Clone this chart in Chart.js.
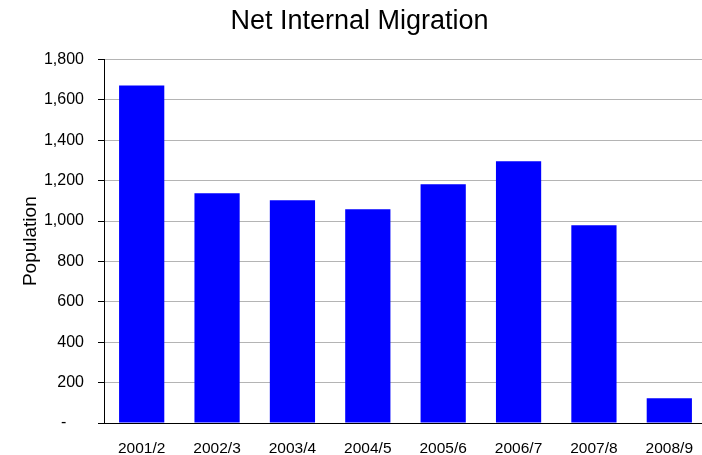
<!DOCTYPE html>
<html>
<head>
<meta charset="utf-8">
<script src="https://cdn.jsdelivr.net/npm/chart.js@4/dist/chart.umd.min.js"></script>
<style>
  html, body { margin: 0; padding: 0; background: #fff; overflow: hidden; }
  #wrap { width: 710px; height: 455px; }
</style>
</head>
<body>
<div id="wrap"><canvas id="myChart" width="710" height="455"></canvas></div>
<script>
// data
var years = ["2001/2", "2002/3", "2003/4", "2004/5", "2005/6", "2006/7", "2007/8", "2008/9"];
var migration = [1671, 1137, 1103, 1058, 1182, 1296, 979, 122];
var yTicks = [0, 200, 400, 600, 800, 1000, 1200, 1400, 1600, 1800];

var font = "'Liberation Sans', Arial, sans-serif";

var totalChart = new Chart("myChart", {
    type: "bar",
    data: {
        labels: years,
        datasets: [{
            data: migration,
            backgroundColor: "#0000FF",
            borderWidth: 0,
            barPercentage: 0.6,
            categoryPercentage: 1
        }]
    },
    options: {
        responsive: false,
        animation: false,
        // left padding just pushes the title centre to the right like in the picture
        layout: { padding: { left: 12, right: 3, top: 0, bottom: 0 } },
        plugins: {
            legend: { display: false },
            tooltip: { enabled: false },
            title: {
                display: true,
                text: "Net Internal Migration",
                color: "#000",
                font: { family: font, size: 27, weight: "normal" },
                padding: { top: 5, bottom: 22 }
            }
        },
        scales: {
            x: {
                afterFit: function (scale) { scale.height = 32; },
                grid: { display: false, drawTicks: false },
                border: { display: true, color: "#000", width: 1 },
                ticks: {
                    color: "#000",
                    font: { family: font, size: 15.5 },
                    padding: 16,
                    maxRotation: 0
                }
            },
            y: {
                min: 0,
                max: 1800,
                afterFit: function (scale) { scale.width = 92; },
                afterBuildTicks: function (scale) {
                    scale.ticks = yTicks.map(function (v) { return { value: v }; });
                },
                grid: {
                    color: "#b4b4b4",
                    tickColor: "#000",
                    tickLength: 6,
                    lineWidth: 1
                },
                border: { display: true, color: "#000", width: 1 },
                ticks: {
                    color: "#000",
                    font: { family: font, size: 16 },
                    padding: 14,
                    callback: function (v) {
                        if (v === 0) return "-    ";
                        return v.toLocaleString("en-US");
                    }
                },
                title: {
                    display: true,
                    text: "Population",
                    color: "#000",
                    font: { family: font, size: 19 },
                    padding: { top: 7, bottom: 0 }
                }
            }
        }
    }
});
</script>
</body>
</html>
